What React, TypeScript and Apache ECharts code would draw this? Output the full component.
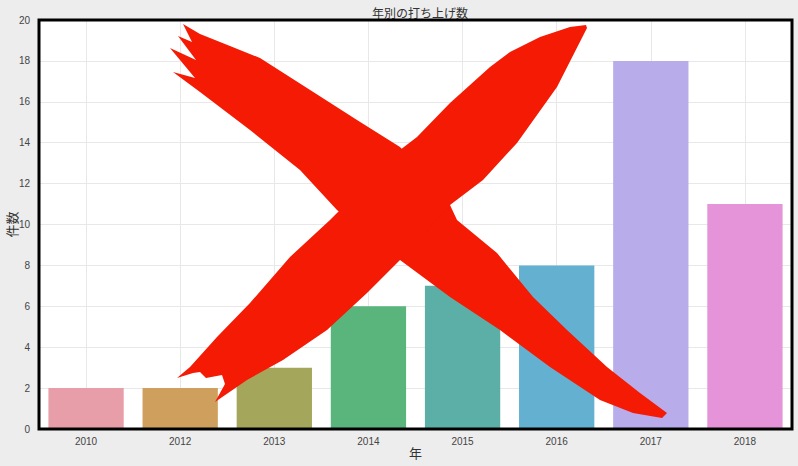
import React, { useEffect, useRef } from "react";
import * as echarts from "echarts";

const years = ["2010", "2012", "2013", "2014", "2015", "2016", "2017", "2018"];
const counts = [2, 2, 3, 6, 7, 8, 18, 11];
const barColors = ["#e89ea8", "#cf9f5e", "#a4a65b", "#5ab57c", "#5bafa6", "#63b0d0", "#b9acea", "#e594d9"];
const titleText = "年別の打ち上げ数";
const xName = "年";
const yName = "件数";

const FONT = "'Liberation Sans', 'Noto Sans CJK JP', sans-serif";
const RED = "#f41a04";

const stroke1 = [
  [183, 24], [200, 34], [230, 46], [260, 58], [307, 88], [357, 120], [400, 147],
  [430, 178], [450, 205], [457, 220], [497, 253], [533, 297], [567, 330], [607, 367],
  [640, 393], [667, 413], [662, 418], [633, 413], [600, 400], [550, 367], [500, 330],
  [450, 297], [400, 260], [337, 210], [300, 170], [250, 130], [200, 92], [173, 72],
  [195, 78], [170, 48], [196, 60], [178, 36], [192, 42],
];
const stroke2 = [
  [586, 25], [570, 27], [540, 37], [510, 52], [490, 67], [450, 103], [417, 137],
  [400, 150], [330, 220], [290, 257], [250, 303], [217, 337], [190, 367], [177, 378],
  [193, 373], [200, 372], [206, 378], [222, 375], [225, 384], [215, 402], [247, 380],
  [283, 360], [327, 330], [367, 293], [400, 260], [450, 205], [483, 180], [517, 143],
  [557, 87], [587, 28],
];

export default function App() {
  const ref = useRef<HTMLDivElement>(null);
  useEffect(() => {
    if (!ref.current) return;
    const chart = echarts.init(ref.current, null, { renderer: "svg" });
    chart.setOption({
      animation: false,
      backgroundColor: "#ededed",
      title: {
        text: titleText,
        left: 415,
        textAlign: "center",
        top: 3,
        textStyle: { fontSize: 12, fontWeight: "normal", color: "#333", fontFamily: FONT },
      },
      grid: {
        left: 39, right: 6, top: 20, bottom: 37,
        outerBoundsMode: "none",
        containLabel: false,
        show: true, backgroundColor: "#ffffff", borderWidth: 0,
      },
      xAxis: {
        type: "category",
        data: years,
        name: xName,
        nameLocation: "middle",
        nameGap: 24,
        nameMoveOverlap: false,
        nameTextStyle: { fontSize: 13, color: "#333", fontFamily: FONT, verticalAlign: "middle" },
        axisLine: { show: false },
        axisTick: { show: false },
        axisLabel: { fontSize: 10, color: "#444", margin: 7, fontFamily: FONT },
        splitLine: { show: true, alignWithLabel: true, lineStyle: { color: "#e8e8e8", width: 1 } },
      },
      yAxis: {
        type: "value",
        min: 0,
        max: 20,
        interval: 2,
        name: yName,
        nameLocation: "middle",
        nameGap: 27,
        nameMoveOverlap: false,
        nameTextStyle: { fontSize: 13, color: "#333", fontFamily: FONT, verticalAlign: "middle" },
        axisLine: { show: false },
        axisTick: { show: false },
        axisLabel: { fontSize: 10, color: "#444", margin: 9, fontFamily: FONT },
        splitLine: { show: true, lineStyle: { color: "#e8e8e8", width: 1 } },
      },
      series: [
        {
          type: "bar",
          data: counts.map((v, i) => ({ value: v, itemStyle: { color: barColors[i] } })),
          barCategoryGap: "20%",
        },
      ],
      graphic: [
        {
          type: "rect",
          z: 50,
          shape: { x: 39, y: 20, width: 753, height: 409 },
          style: { fill: "none", stroke: "#000", lineWidth: 3 },
          silent: true,
        },
        {
          type: "polygon",
          z: 100,
          shape: { points: stroke1 },
          style: { fill: RED },
          silent: true,
        },
        {
          type: "polygon",
          z: 100,
          shape: { points: stroke2 },
          style: { fill: RED },
          silent: true,
        },
      ],
    });
    return () => chart.dispose();
  }, []);
  return <div ref={ref} style={{ position: "fixed", left: 0, top: 0, width: 798, height: 466 }} />;
}
